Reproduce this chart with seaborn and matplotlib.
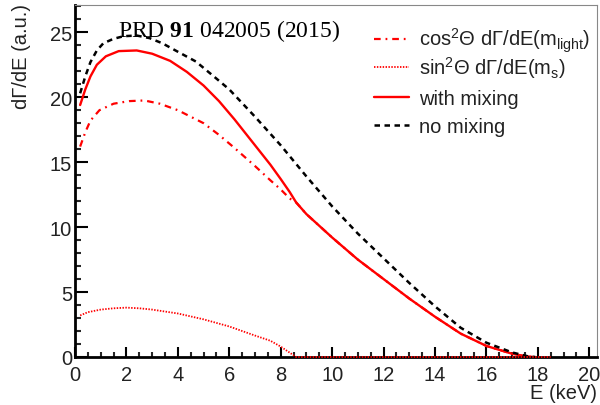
import numpy as np
import pandas as pd
import matplotlib
matplotlib.use("Agg")
import matplotlib.pyplot as plt
import seaborn as sns
from matplotlib.lines import Line2D
from matplotlib.ticker import MultipleLocator

# ---- data ----
e_nomix = [0.2, 0.4, 0.6, 0.85, 1.1, 1.5, 1.9, 2.4, 2.9, 3.4, 4.0, 4.7, 5.4, 6.0, 7.0, 8.0, 9.0, 10.0,
           11.0, 12.0, 13.0, 14.0, 15.0, 16.0, 17.0, 17.6, 17.9]
y_nomix = [20.3, 21.6, 22.7, 23.6, 24.15, 24.5, 24.7, 24.75, 24.55, 24.15, 23.5, 22.75, 21.6, 20.6, 18.5,
           16.3, 13.9, 11.6, 9.5, 7.6, 5.7, 3.9, 2.25, 1.1, 0.35, 0.06, 0.0]

e_mix = [0.2, 0.4, 0.6, 0.85, 1.2, 1.7, 2.4, 3.0, 3.7, 4.35, 5.0, 5.6, 6.2, 7.0, 7.6, 8.0, 8.35, 8.6,
         9.0, 10.0, 11.0, 12.0, 13.0, 14.0, 15.0, 16.0, 17.0, 17.5, 17.8]
y_mix = [19.4, 20.6, 21.6, 22.5, 23.15, 23.55, 23.6, 23.35, 22.8, 21.95, 20.9, 19.7, 18.3, 16.3, 14.8,
         13.7, 12.7, 11.9, 11.0, 9.2, 7.5, 6.0, 4.5, 3.1, 1.8, 0.85, 0.25, 0.06, 0.0]

e_cos = [0.2, 0.4, 0.6, 0.95, 1.5, 2.1, 2.7, 3.3, 4.0, 5.0, 5.6, 6.2, 7.0, 7.6, 8.0, 8.35, 8.6,
         9.0, 10.0, 11.0, 12.0, 13.0, 14.0, 15.0, 16.0, 17.0, 17.5, 17.8]
y_cos = [16.2, 17.3, 18.2, 19.0, 19.5, 19.7, 19.75, 19.5, 19.0, 18.0, 17.1, 16.1, 14.7, 13.6, 12.9, 12.2, 11.9,
         11.0, 9.2, 7.5, 6.0, 4.5, 3.1, 1.8, 0.85, 0.25, 0.06, 0.0]

e_sin = [0.2, 0.5, 1.0, 1.5, 2.0, 2.5, 3.0, 4.0, 5.0, 6.0, 7.0, 7.6, 8.0, 8.3, 8.45, 8.6, 10.0, 14.0, 18.5]
y_sin = [3.2, 3.45, 3.65, 3.75, 3.8, 3.75, 3.65, 3.35, 2.9, 2.35, 1.65, 1.25, 0.8, 0.4, 0.2, 0.0, 0.0, 0.0, 0.0]

labels = [r"cos$^2$Θ dΓ/dE(m$_{\mathrm{light}}$)",
          r"sin$^2$Θ dΓ/dE(m$_{\mathrm{s}}$)",
          "with mixing",
          "no mixing"]

# ---- style ----
sns.set_theme(style="ticks")
plt.rcParams["font.family"] = ["Liberation Sans", "DejaVu Sans"]
plt.rcParams["mathtext.fontset"] = "custom"
plt.rcParams["mathtext.rm"] = "Liberation Sans"
plt.rcParams["mathtext.it"] = "Liberation Sans:italic"
plt.rcParams["mathtext.bf"] = "Liberation Serif:bold"

FS = 14.5
fig = plt.figure(figsize=(6.0, 4.06), dpi=100)
ax = fig.add_axes([75 / 600, 1 - 358 / 406, (597 - 75) / 600, (358 - 6) / 406])

red = "#ff0000"
ls_cos = (0, (3.0, 2.2, 0.8, 2.2))
ls_sin = (0, (0.8, 0.8))
ls_no = (0, (2.2, 1.8))

sns.lineplot(x=e_cos, y=y_cos, ax=ax, color=red, lw=1.6, linestyle=ls_cos, sort=False)
sns.lineplot(x=e_sin, y=y_sin, ax=ax, color=red, lw=1.3, linestyle=ls_sin, sort=False,
             clip_on=False, zorder=3)
sns.lineplot(x=e_mix, y=y_mix, ax=ax, color=red, lw=1.7, sort=False)
sns.lineplot(x=e_nomix, y=y_nomix, ax=ax, color="black", lw=1.8, linestyle=ls_no, sort=False)

ax.set_xlim(0, 20.3)
ax.set_ylim(0, 27.1)
ax.xaxis.set_major_locator(MultipleLocator(2))
ax.xaxis.set_minor_locator(MultipleLocator(0.5))
ax.yaxis.set_major_locator(MultipleLocator(5))
ax.yaxis.set_minor_locator(MultipleLocator(1))
ax.set_xticks([0, 2, 4, 6, 8, 10, 12, 14, 16, 18, 20])
ax.set_xlabel("")
ax.set_ylabel("")

for s in ["left", "bottom"]:
    ax.spines[s].set_color("black")
    ax.spines[s].set_linewidth(2.0)
    ax.spines[s].set_zorder(2.5)
for s in ["top", "right"]:
    ax.spines[s].set_visible(True)
    ax.spines[s].set_color("#888888")
    ax.spines[s].set_linewidth(0.8)

ax.tick_params(axis="x", which="major", direction="in", length=7.2, width=1.5,
               labelsize=FS, pad=6, colors="black", top=False)
ax.tick_params(axis="x", which="minor", direction="in", length=3.6, width=1.5, top=False)
ax.tick_params(axis="y", which="major", direction="in", length=9.0, width=1.5,
               labelsize=FS, pad=2, colors="black", right=False)
ax.tick_params(axis="y", which="minor", direction="in", length=4.3, width=1.5, right=False)
for t in ax.get_xticklabels() + ax.get_yticklabels():
    t.set_color("#222222")

# legend (first row separate to control row spacing)
handles = [Line2D([], [], color=red, lw=1.6, linestyle=ls_cos),
           Line2D([], [], color=red, lw=1.3, linestyle=ls_sin),
           Line2D([], [], color=red, lw=1.7),
           Line2D([], [], color="black", lw=1.8, linestyle=ls_no)]
common = dict(loc="upper left", bbox_transform=fig.transFigure, frameon=False, fontsize=FS,
              handlelength=1.75, handletextpad=0.5, labelspacing=0.45,
              borderpad=0, borderaxespad=0)
legA = fig.legend(handles[:1], labels[:1], bbox_to_anchor=(374 / 600, 1 - 27 / 406), **common)
legB = fig.legend(handles[1:], labels[1:], bbox_to_anchor=(374 / 600, 1 - 55 / 406), **common)
for leg in (legA, legB):
    for t in leg.get_texts():
        t.set_color("#222222")

# texts
fig.text(118 / 600, 1 - 37 / 406, r"PRD $\mathbf{91}$ 042005 (2015)", family="Liberation Serif",
         fontsize=17, ha="left", va="baseline", color="black")
fig.text(22 / 600, 1 - 4 / 406, "dΓ/dE (a.u.)", rotation=90, ha="center", va="top",
         fontsize=FS, color="#222222")
fig.text(597 / 600, 1 - 394 / 406, "E (keV)", ha="right", va="center", fontsize=FS, color="#222222")

fig.savefig("out.png", dpi=100)
